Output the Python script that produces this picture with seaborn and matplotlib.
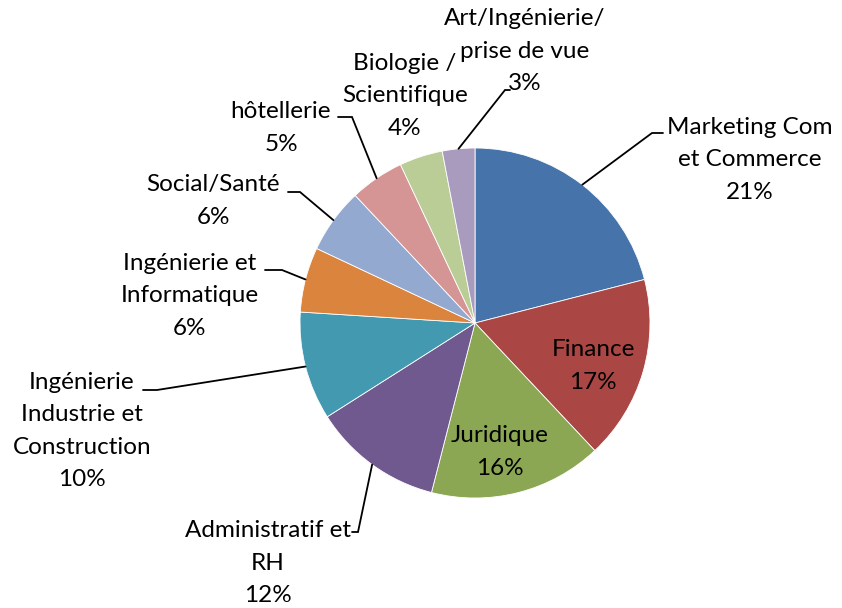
import numpy as np
import matplotlib
matplotlib.use("Agg")
import matplotlib.pyplot as plt
import seaborn as sns

# -------------------- Data --------------------

categories = [
    "Marketing Com\net Commerce",
    "Finance",
    "Juridique",
    "Administratif et\nRH",
    "Ingénierie\nIndustrie et\nConstruction",
    "Ingénierie et\nInformatique",
    "Social/Santé",
    "hôtellerie",
    "Biologie /\nScientifique",
    "Art/Ingénierie/\nprise de vue",
]
shares = [21, 17, 16, 12, 10, 6, 6, 5, 4, 3]

colors = ["#4674AA", "#AA4644", "#8BA753", "#70598E", "#4299B0",
          "#DB843E", "#94A9CF", "#D59594", "#BACD96", "#A99BBD"]

# -------------------- Layout (pixels in the 842x608 image) --------------------

W, H = 842, 608
CX, CY, R = 475, 323, 175

# label block centre
label_pos = [(750, 160), (593, 366), (500, 452), (268, 563), (82, 431),
             (190, 296), (213, 201), (281, 128), (405, 96), (525, 51)]
# leader line: elbow point and end point (None = label inside the slice)
leaders = [((652, 133), (663, 133)), None, None,
           ((358, 532), (352, 532)), ((157, 390), (143, 390)),
           ((282, 270), (265, 270)), ((300, 192), (288, 192)),
           ((352, 117), (338, 117)), None, ((505, 90), (510, 90))]


def px(p):
    """Pixel position -> data coordinates (pie radius = 1)."""
    return ((p[0] - CX) / R, (CY - p[1]) / R)


# -------------------- Plot --------------------

sns.set_theme(style="white")
plt.rcParams["font.family"] = ["Lato", "DejaVu Sans"]

fig = plt.figure(figsize=(W / 100, H / 100), dpi=100)
ax = fig.add_axes([0, 0, 1, 1])

wedges, _ = ax.pie(shares, colors=colors, startangle=90, counterclock=False,
                   radius=1, center=(0, 0), frame=True,
                   wedgeprops=dict(edgecolor="white", linewidth=0.6))
ax.set_xlim(-CX / R, (W - CX) / R)
ax.set_ylim(-(H - CY) / R, CY / R)
ax.set_aspect("auto")
ax.axis("off")

for w, cat, val, pos, ld in zip(wedges, categories, shares, label_pos, leaders):
    tx, ty = px(pos)
    ax.text(tx, ty, f"{cat}\n{val}%", ha="center", va="center",
            fontsize=17.5, color="black", linespacing=1.65)
    if ld is not None:
        ang = np.deg2rad((w.theta1 + w.theta2) / 2)
        ex, ey = np.cos(ang), np.sin(ang)
        (bx, by), (fx, fy) = px(ld[0]), px(ld[1])
        ax.plot([ex, bx, fx], [ey, by, fy], color="black", linewidth=1.3,
                solid_joinstyle="miter")

fig.savefig("out.png", dpi=100)
